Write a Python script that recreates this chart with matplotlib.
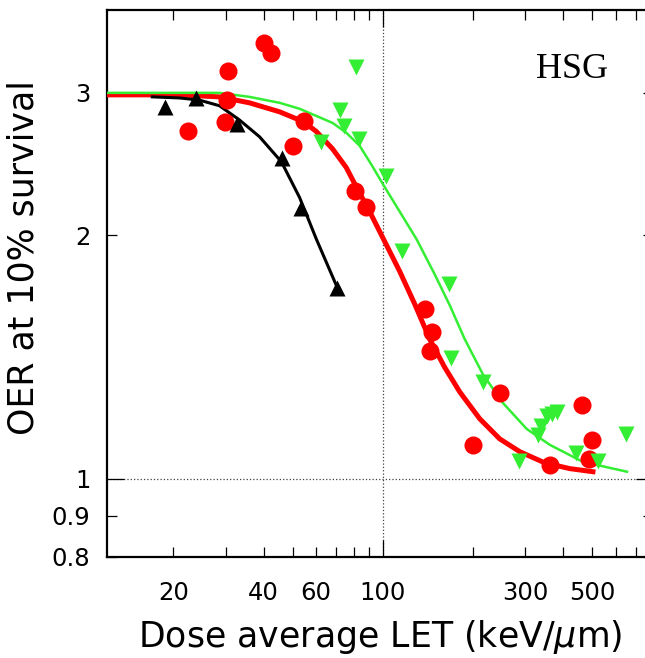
import matplotlib
matplotlib.use('Agg')
import matplotlib.pyplot as plt

red_let = [22.4, 29.8, 30.2, 30.5, 40.1, 42.4, 50.1, 54.4, 80.9, 88.2,
           138, 146, 144, 200, 246, 362, 464, 488, 500]
red_oer = [2.69, 2.76, 2.94, 3.19, 3.46, 3.36, 2.58, 2.77, 2.27, 2.17,
           1.62, 1.52, 1.44, 1.10, 1.275, 1.041, 1.234, 1.058, 1.118]

black_let = [18.7, 23.8, 32.7, 46.0, 53.5, 70.6]
black_oer = [2.88, 2.96, 2.75, 2.49, 2.16, 1.72]

green_let = [62.0, 71.8, 74.2, 81.7, 83.3, 103, 116, 166, 169, 216,
             285, 330, 339, 353, 367, 381, 444, 525, 648]
green_oer = [2.61, 2.86, 2.73, 3.23, 2.63, 2.37, 1.91, 1.74, 1.41, 1.316,
             1.053, 1.131, 1.163, 1.197, 1.203, 1.208, 1.077, 1.051, 1.136]

# fitted curves
red_fit_let = [12, 20.9, 28.5, 35.9, 45.3, 54.4, 60.0, 68.0, 75.6, 80.6, 90.5, 100, 114,
               128, 143.6, 161, 181, 211, 246, 287, 348, 422, 504]
red_fit_oer = [2.984, 2.984, 2.967, 2.917, 2.843, 2.764, 2.689, 2.559, 2.426, 2.317, 2.140, 1.988, 1.805,
               1.644, 1.488, 1.374, 1.280, 1.186, 1.120, 1.080, 1.046, 1.029, 1.020]

green_fit_let = [12, 28.5, 35.9, 45.3, 52.8, 68.0, 75.6, 83.8, 92.6, 100, 114, 129.9,
                 149.3, 167.5, 188, 216, 252, 303, 362, 466.6, 655]
green_fit_oer = [3.001, 3.001, 2.967, 2.917, 2.868, 2.755, 2.679, 2.581, 2.432, 2.317, 2.140, 1.977,
                 1.789, 1.639, 1.488, 1.347, 1.241, 1.152, 1.101, 1.049, 1.020]

black_fit_let = [17.0, 20.95, 24.4, 28.5, 33.2, 38.8, 45.9, 52.8, 60.1, 70.7]
black_fit_oer = [2.967, 2.958, 2.94, 2.893, 2.779, 2.648, 2.466, 2.227, 1.977, 1.720]

x_major = [100]
x_minor = [20, 30, 40, 50, 60, 70, 80, 90, 200, 300, 400, 500, 600, 700, 800]
x_minor_labels = ['20', '', '40', '', '60', '', '', '', '', '300', '', '500', '', '', '']
y_major = [1]
y_minor = [0.8, 0.9, 2, 3]
y_minor_labels = ['0.8', '0.9', '2', '3']

plt.rcParams['font.family'] = 'DejaVu Sans'

fig = plt.figure(figsize=(6.45, 6.58), dpi=100)
ax = fig.add_axes([0.1659, 0.1535, 0.8465, 0.8313])
ax.set_xscale('log')
ax.set_yscale('log')
ax.set_xlim(12, 800)
ax.set_ylim(0.8, 3.8)

# dotted reference lines
ax.axvline(100, ls=':', color='0.25', lw=0.9, zorder=1)
ax.axhline(1, ls=':', color='0.25', lw=0.9, zorder=1)

# curves
ax.plot(red_fit_let, red_fit_oer, color='#ff0000', lw=3.6, zorder=3)
ax.plot(green_fit_let, green_fit_oer, color='#33ee33', lw=1.8, zorder=3)
ax.plot(black_fit_let, black_fit_oer, color='black', lw=2.2, zorder=3)

# points
ax.plot(red_let, red_oer, 'o', color='#ff0000', ms=13, mec='none', zorder=4)
ax.plot(green_let, green_oer, 'v', color='#33ee33', ms=12, mec='none', zorder=5)
ax.plot(black_let, black_oer, '^', color='black', ms=12, mec='none', zorder=5)

# ticks
ax.set_xticks(x_major, ['100'])
ax.set_xticks(x_minor, x_minor_labels, minor=True)
ax.set_yticks(y_major, ['1'])
ax.set_yticks(y_minor, y_minor_labels, minor=True)
ax.tick_params(which='both', direction='in', top=True, right=True,
               labelsize=17.5, width=0.9)
ax.tick_params(which='major', length=12)
ax.tick_params(which='minor', length=7)
ax.tick_params(axis='x', which='both', pad=17)
ax.tick_params(axis='y', which='both', pad=12)
for s in ax.spines.values():
    s.set_linewidth(1.6)

ax.set_xlabel(r'Dose average LET (keV/$\mu$m)', fontsize=25)
ax.xaxis.set_label_coords(0.5, -0.164)
ax.xaxis.label.set_verticalalignment('baseline')
ax.set_ylabel('OER at 10% survival', fontsize=25)
ax.yaxis.set_label_coords(-0.134, 0.547)
ax.yaxis.label.set_verticalalignment('baseline')

ax.text(0.8526, 0.8757, 'HSG', transform=ax.transAxes, ha='center', va='baseline',
        fontsize=26, family='Liberation Serif')

plt.savefig('out.png', dpi=100)
